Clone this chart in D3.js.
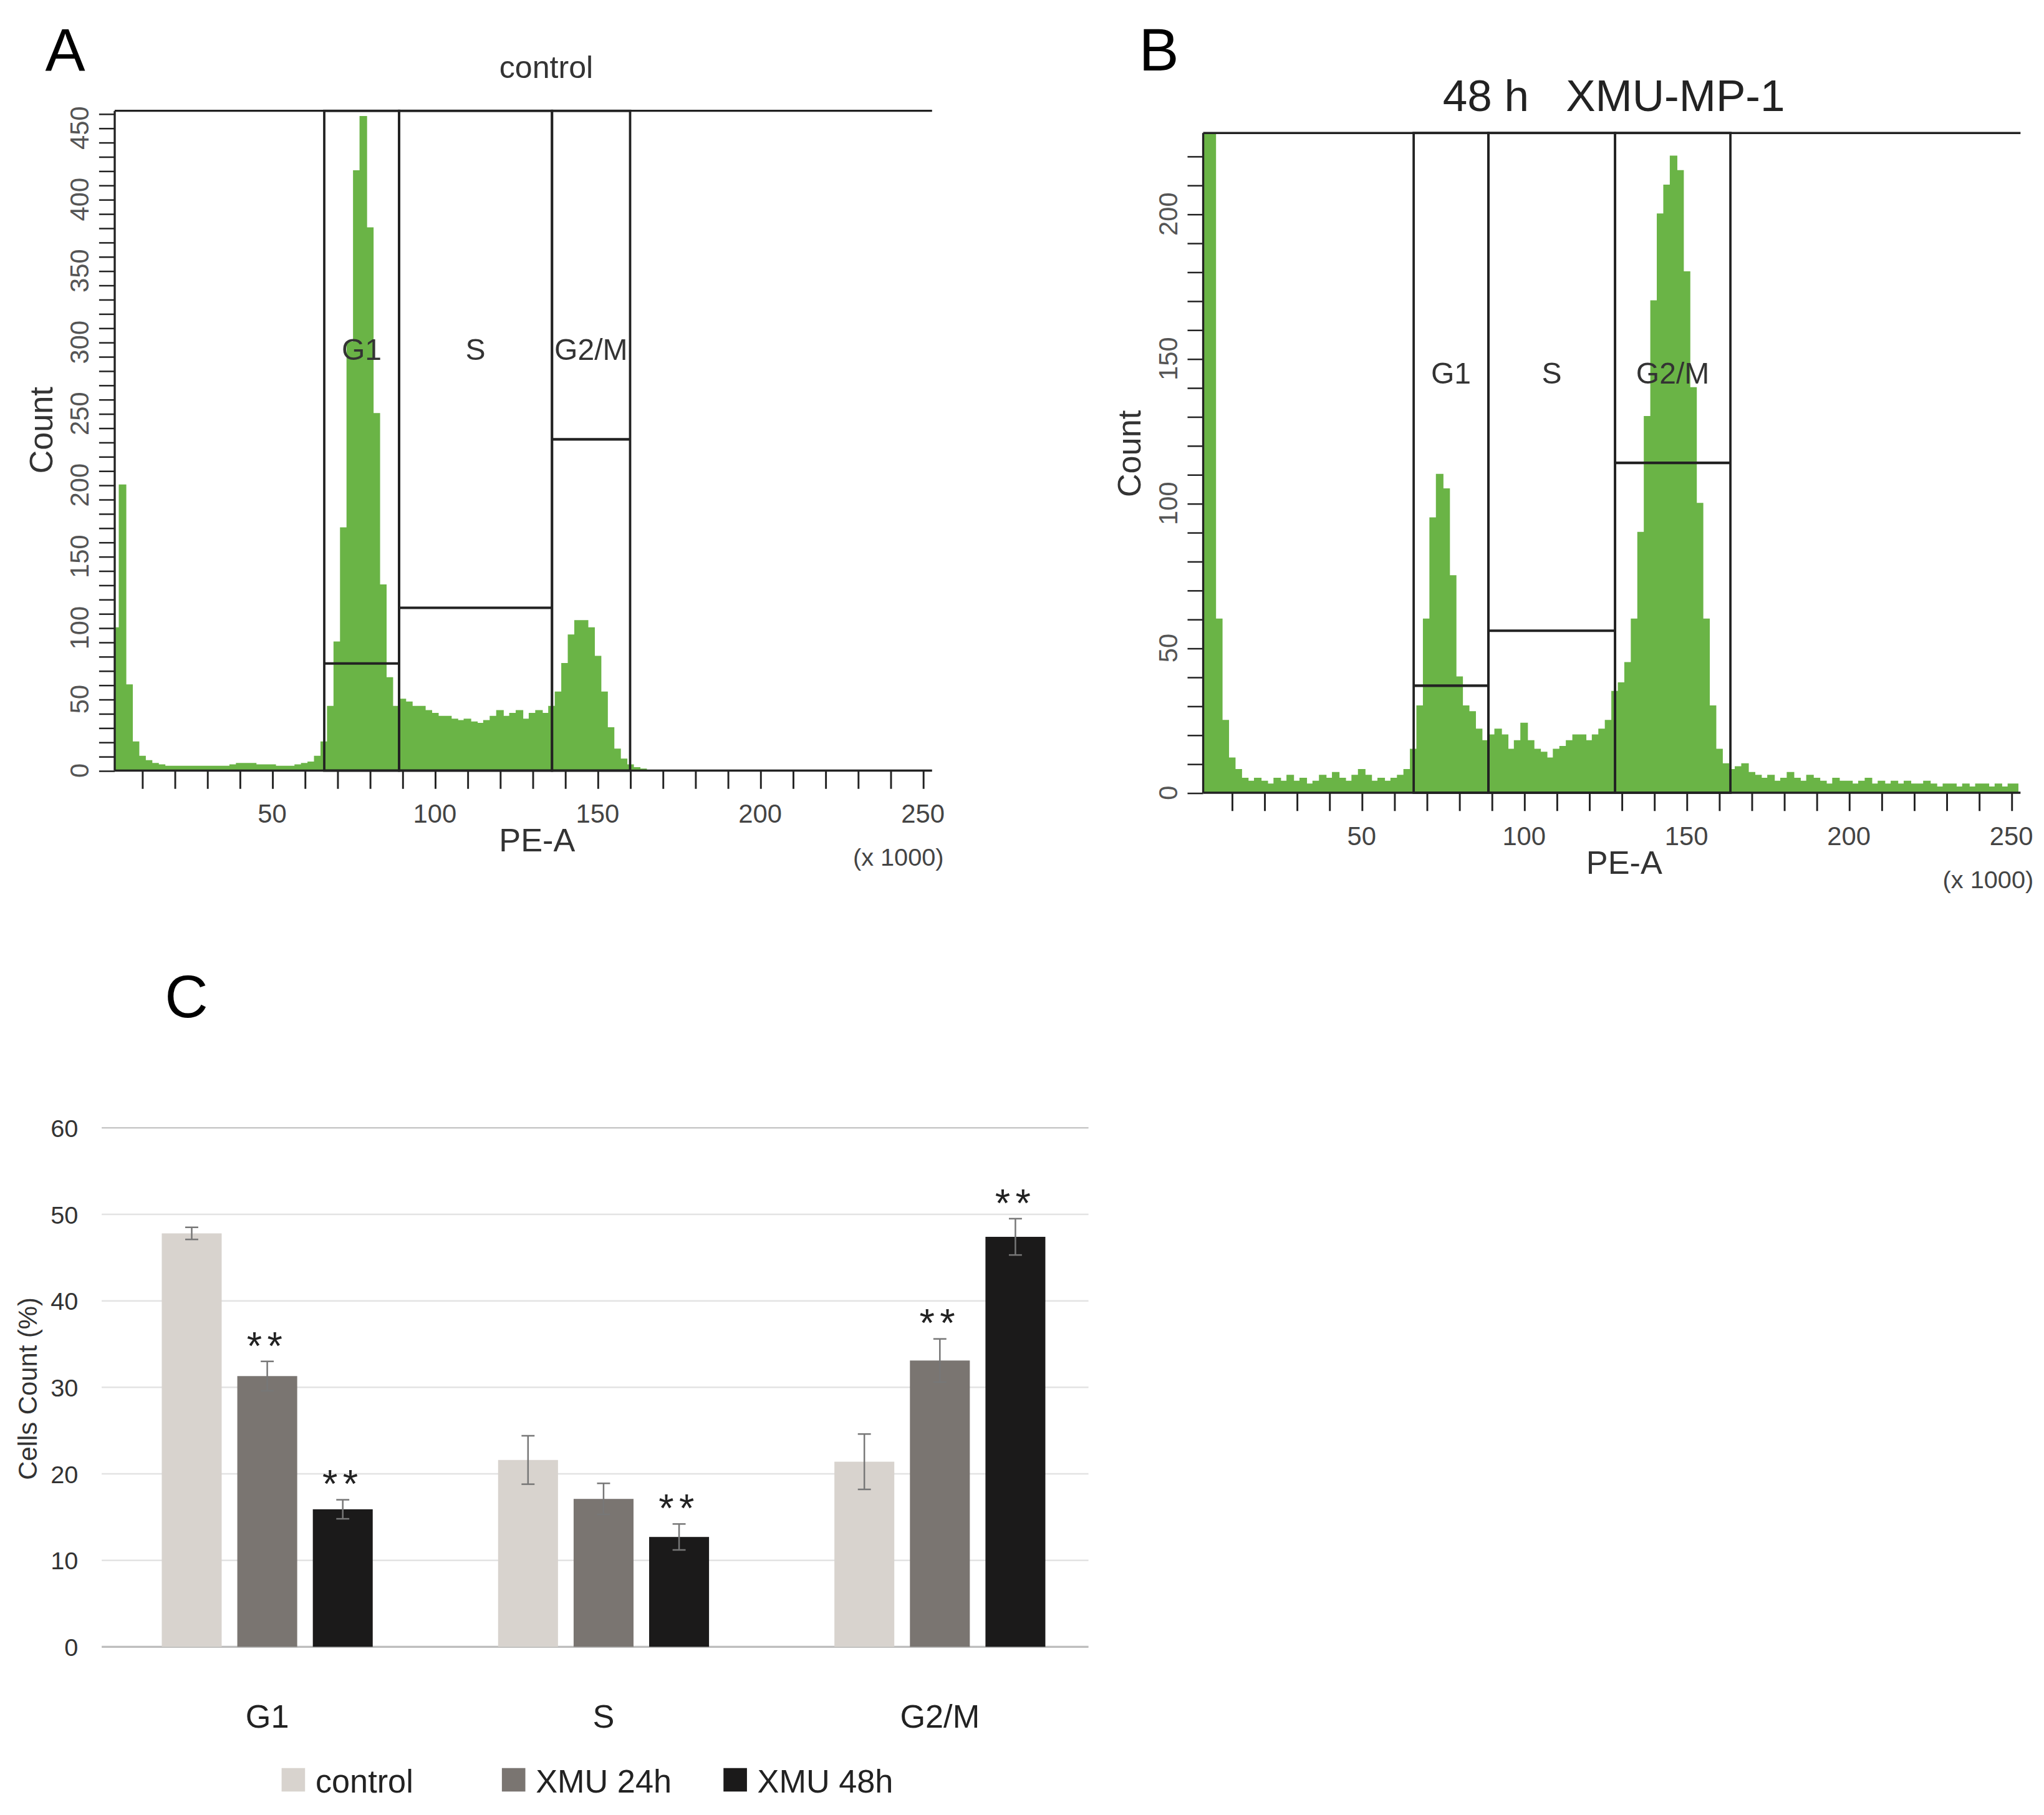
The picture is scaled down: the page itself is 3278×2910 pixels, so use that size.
<!DOCTYPE html>
<html><head><meta charset="utf-8">
<script src="https://cdn.jsdelivr.net/npm/d3@7"></script>
<style>body{margin:0;background:#fff}</style></head>
<body><svg id="c" width="3278" height="2910" viewBox="0 0 1568 1392"></svg>
<script>
// Histogram A (control), bins every 2 units of PE-A (x1000), starting at 2
const histA = [100,200,60,20,10,7,5,4,3,3,3,3,3,3,3,3,3,3,4,5,5,5,4,4,4,3,3,3,4,5,6,10,20,45,90,170,300,420,458,380,250,130,65,45,50,48,45,45,42,40,38,38,36,35,36,34,33,35,38,42,38,40,42,36,40,42,40,45,55,75,95,105,105,100,80,55,30,15,8,4,2,1,0];
// Histogram B (48 h XMU-MP-1), bins every 2 units, starting at 2
const histB = [228,228,60,25,12,8,5,4,5,4,3,5,4,6,4,5,3,4,6,5,7,5,4,6,8,6,4,5,4,5,6,8,15,30,60,95,110,105,75,40,30,28,22,18,20,22,20,15,18,24,18,15,14,12,15,16,18,20,20,18,20,22,25,35,38,45,60,90,130,170,200,210,220,215,180,140,100,60,30,15,10,8,9,10,7,6,5,6,4,5,7,5,4,6,5,4,3,5,4,4,3,4,5,3,4,3,4,3,4,3,3,4,3,2,3,3,2,3,2,3,3,2,3,2,3,3];
const gatesA = [{name:"G1",x0:66,x1:89,h:75},{name:"S",x0:89,x1:136,h:114},{name:"G2/M",x0:136,x1:160,h:232}];
const gatesB = [{name:"G1",x0:66,x1:89,h:37},{name:"S",x0:89,x1:128,h:56},{name:"G2/M",x0:128,x1:163.5,h:114}];
const xTicks = [50,100,150,200,250];
const phases = ["G1","S","G2/M"];
const groups = ["control","XMU 24h","XMU 48h"];
const means = {"G1":[47.8,31.3,15.9],"S":[21.6,17.1,12.7],"G2/M":[21.4,33.1,47.4]};
const errs = {"G1":[0.7,1.7,1.1],"S":[2.8,1.8,1.5],"G2/M":[3.2,2.5,2.1]};
const stars = {"G1":[false,true,true],"S":[false,false,true],"G2/M":[false,true,true]};
const colors = ["#d8d3ce","#7a7571","#1b1a1a"];

const svg = d3.select("#c");
const F = "Liberation Sans, Arial, sans-serif";

function hist(cfg){
  const g = svg.append("g");
  const x = d3.scaleLinear().domain([0,250]).range([cfg.x0,cfg.x250]);
  const y = d3.scaleLinear().domain([0,cfg.ymax]).range([cfg.base,cfg.top]);
  const pts = cfg.data.map((v,i)=>[2+2*i, Math.min(v,cfg.ymax)]);
  pts.unshift([cfg.dmin,0]);
  g.append("path").datum(pts).attr("fill","#6ab446").attr("stroke","#6ab446").attr("stroke-width",0.8)
    .attr("d",d3.area().x(d=>x(d[0])).y0(y(0)).y1(d=>y(d[1])).curve(d3.curveStep));
  const xl = x(cfg.dmin);
  g.append("line").attr("x1",xl).attr("x2",cfg.right).attr("y1",cfg.base).attr("y2",cfg.base).attr("stroke","#222").attr("stroke-width",1.6);
  g.append("line").attr("x1",xl).attr("x2",xl).attr("y1",cfg.base).attr("y2",cfg.top).attr("stroke","#222").attr("stroke-width",1.6);
  g.append("line").attr("x1",xl).attr("x2",cfg.right).attr("y1",cfg.top).attr("y2",cfg.top).attr("stroke","#222").attr("stroke-width",1.6);
  const xa = g.append("g").attr("transform",`translate(0,${cfg.base})`)
    .call(d3.axisBottom(x).tickValues(d3.range(10,251,10)).tickSize(14).tickFormat(""));
  xa.select(".domain").remove(); xa.selectAll("line").attr("stroke","#222").attr("stroke-width",1.4);
  g.selectAll(".xt").data(xTicks).join("text").attr("x",d=>x(d)).attr("y",cfg.base+40)
    .attr("text-anchor","middle").attr("font-family",F).attr("font-size",20).attr("fill","#444").text(d=>d);
  const ya = g.append("g").attr("transform",`translate(${xl},0)`)
    .call(d3.axisLeft(y).tickValues(d3.range(0,cfg.ymax+1,cfg.minor)).tickSize(cfg.tick).tickFormat(""));
  ya.select(".domain").remove(); ya.selectAll("line").attr("stroke","#222").attr("stroke-width",1.2);
  g.selectAll(".yt").data(d3.range(0,cfg.ymax+1,50)).join("text")
    .attr("transform",d=>`translate(${cfg.ylab},${y(d)}) rotate(-90)`).attr("text-anchor","middle")
    .attr("font-family",F).attr("font-size",20).attr("fill","#555").text(d=>d);
  cfg.gates.forEach(gt=>{
    g.append("rect").attr("x",x(gt.x0)).attr("y",cfg.top).attr("width",x(gt.x1)-x(gt.x0)).attr("height",cfg.base-cfg.top)
      .attr("fill","none").attr("stroke","#222").attr("stroke-width",1.8);
    g.append("line").attr("x1",x(gt.x0)).attr("x2",x(gt.x1)).attr("y1",y(gt.h)).attr("y2",y(gt.h)).attr("stroke","#222").attr("stroke-width",2);
    g.append("text").attr("x",(x(gt.x0)+x(gt.x1))/2).attr("y",cfg.glab).attr("text-anchor","middle")
      .attr("font-family",F).attr("font-size",23).attr("fill","#333").text(gt.name);
  });
  g.append("text").attr("transform",`translate(${cfg.cx},${cfg.cy}) rotate(-90)`).attr("text-anchor","middle")
    .attr("font-family",F).attr("font-size",25).attr("fill","#333").text("Count");
  g.append("text").attr("x",cfg.pex).attr("y",cfg.base+62).attr("text-anchor","middle")
    .attr("font-family",F).attr("font-size",25).attr("fill","#333").text("PE-A");
  g.append("text").attr("x",cfg.xkx).attr("y",cfg.base+73).attr("text-anchor","end")
    .attr("font-family",F).attr("font-size",19).attr("fill","#444").text("(x 1000)");
}
hist({data:histA,gates:gatesA,x0:84,x250:708,right:715,dmin:1.6,base:591,top:85,ymax:462,minor:10,tick:12,ylab:68,glab:276,cx:40,cy:330,pex:412,xkx:724});
hist({data:histB,gates:gatesB,x0:920,x250:1543,right:1550,dmin:1.2,base:608,top:102,ymax:228,minor:10,tick:12,ylab:903,glab:294,cx:875,cy:348,pex:1246,xkx:1560});

svg.append("text").attr("x",50).attr("y",54).attr("text-anchor","middle").attr("font-family",F).attr("font-size",46).text("A");
svg.append("text").attr("x",889).attr("y",54).attr("text-anchor","middle").attr("font-family",F).attr("font-size",46).text("B");
svg.append("text").attr("x",143).attr("y",780).attr("text-anchor","middle").attr("font-family",F).attr("font-size",46).text("C");
svg.append("text").attr("x",419).attr("y",60).attr("text-anchor","middle").attr("font-family",F).attr("font-size",24).attr("fill","#333").text("control");
svg.append("text").attr("x",1238).attr("y",85).attr("text-anchor","middle").attr("font-family",F).attr("font-size",34).attr("fill","#222").attr("xml:space","preserve").text("48 h   XMU-MP-1");

// Panel C
const cg = svg.append("g");
const yC = d3.scaleLinear().domain([0,60]).range([1263,865]);
const xC = d3.scaleBand().domain(phases).range([76,850]);
const xs = d3.scaleBand().domain(groups).range([0,xC.bandwidth()]).paddingInner(0.207).paddingOuter(0.83);
[0,10,20,30,40,50,60].forEach(v=>{
  cg.append("line").attr("x1",78).attr("x2",835).attr("y1",yC(v)).attr("y2",yC(v))
    .attr("stroke",v===0?"#bdbdbd":(v===60?"#c8c8c8":"#e3e3e3")).attr("stroke-width",v===0?1.6:1.2);
  cg.append("text").attr("x",60).attr("y",yC(v)+7).attr("text-anchor","end").attr("font-family",F).attr("font-size",19).attr("fill","#333").text(v);
});
phases.forEach(p=>{
  groups.forEach((gname,i)=>{
    const bx = xC(p)+xs(gname), bw = xs.bandwidth(), cx = bx+bw/2;
    cg.append("rect").attr("x",bx).attr("y",yC(means[p][i])).attr("width",bw).attr("height",yC(0)-yC(means[p][i])).attr("fill",colors[i]);
    const lo = yC(means[p][i]-errs[p][i]), hi = yC(means[p][i]+errs[p][i]);
    cg.append("line").attr("x1",cx).attr("x2",cx).attr("y1",lo).attr("y2",hi).attr("stroke","#777").attr("stroke-width",1.2);
    [lo,hi].forEach(yy=>cg.append("line").attr("x1",cx-5).attr("x2",cx+5).attr("y1",yy).attr("y2",yy).attr("stroke","#777").attr("stroke-width",1.2));
    if(stars[p][i]) cg.append("text").attr("x",cx).attr("y",hi-2).attr("text-anchor","middle").attr("font-family",F)
      .attr("font-size",30).attr("letter-spacing",4).attr("fill","#222").text("**");
  });
  cg.append("text").attr("x",xC(p)+xC.bandwidth()/2).attr("y",1325).attr("text-anchor","middle").attr("font-family",F).attr("font-size",25).attr("fill","#222").text(p);
});
cg.append("text").attr("transform","translate(28,1065) rotate(-90)").attr("text-anchor","middle").attr("font-family",F).attr("font-size",20).attr("fill","#333").text("Cells Count (%)");
const legX = [216,385,555];
groups.forEach((gname,i)=>{
  cg.append("rect").attr("x",legX[i]).attr("y",1356).attr("width",18).attr("height",18).attr("fill",colors[i]);
  cg.append("text").attr("x",legX[i]+26).attr("y",1375).attr("font-family",F).attr("font-size",25).attr("fill","#222").text(gname);
});
</script></body></html>
